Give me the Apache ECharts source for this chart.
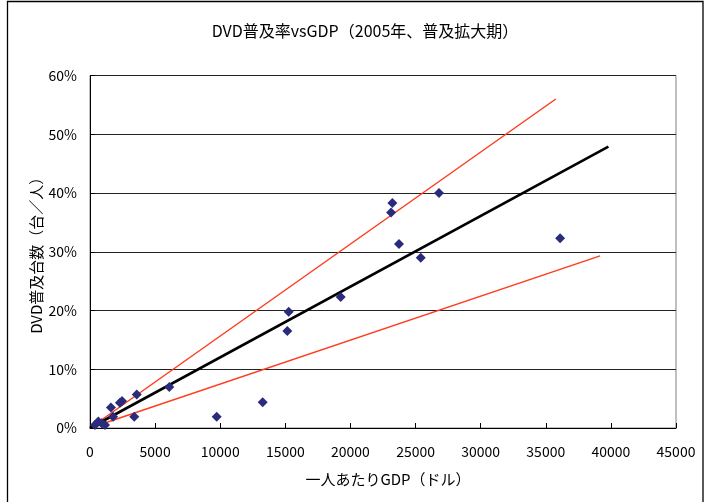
<!DOCTYPE html>
<html>
<head>
<meta charset="utf-8">
<script src="https://cdn.jsdelivr.net/npm/echarts@6/dist/echarts.min.js"></script>
<style>
html,body{margin:0;padding:0;background:#fff;}
#chart{width:705px;height:502px;}
</style>
</head>
<body>
<div id="chart"></div>
<script>
// GDP per capita (USD)
const gdp = [380, 640, 900, 1150, 1610, 1770, 2300, 2460, 3400, 3590, 6090, 9730, 13260, 15150, 15260, 19250, 23220, 23120, 23730, 25400, 26800, 36100];
// DVD penetration (units per person, fraction)
const dvd = [0.005, 0.011, 0.008, 0.005, 0.035, 0.019, 0.043, 0.046, 0.019, 0.057, 0.070, 0.019, 0.044, 0.165, 0.198, 0.223, 0.383, 0.367, 0.313, 0.290, 0.400, 0.323];
// trend line (black) and bounds (red)
const trendX = [0, 39810];
const trendY = [0, 0.479];
const upperX = [0, 35770];
const upperY = [0, 0.560];
const lowerX = [0, 39170];
const lowerY = [0, 0.293];
const xTicks = [0, 5000, 10000, 15000, 20000, 25000, 30000, 35000, 40000, 45000];
const yTicks = ['0%', '10%', '20%', '30%', '40%', '50%', '60%'];

const zip = (a, b) => a.map((v, i) => [v, b[i]]);
const FONT = '"Noto Sans CJK JP", "Noto Sans", sans-serif';

const chart = echarts.init(document.getElementById('chart'), null, {renderer: 'canvas'});
chart.setOption({
  animation: false,
  backgroundColor: '#fff',
  graphic: [{
    type: 'rect',
    shape: {x: 7.5, y: 1.5, width: 695.5, height: 520},
    style: {fill: 'none', stroke: '#000', lineWidth: 1.3},
    silent: true
  }],
  title: {
    text: 'DVD普及率vsGDP（2005年、普及拡大期）',
    left: 360, top: 18, textAlign: 'center',
    textStyle: {fontFamily: FONT, fontSize: 16, fontWeight: 'normal', color: '#000'}
  },
  grid: {left: 90, right: 29, top: 75.5, bottom: 74, show: true, borderColor: '#808080', borderWidth: 1, containLabel: false},
  xAxis: {
    type: 'value', min: 0, max: 45000, interval: 5000,
    name: '一人あたりGDP（ドル）', nameLocation: 'middle', nameGap: 44,
    nameMoveOverlap: false,
    nameTextStyle: {fontFamily: FONT, fontSize: 15, color: '#000', padding: [0, 0, 0, 10]},
    axisLine: {onZero: false, lineStyle: {color: '#000', width: 1}},
    axisTick: {inside: true, length: 5, lineStyle: {color: '#000'}},
    axisLabel: {fontFamily: FONT, fontSize: 14, color: '#000', margin: 17,
      formatter: v => String(xTicks[Math.round(v / 5000)])},
    splitLine: {show: false}
  },
  yAxis: {
    type: 'value', min: 0, max: 0.6, interval: 0.1,
    name: 'DVD普及台数（台／人）', nameLocation: 'middle', nameGap: 46, nameRotate: 90,
    nameMoveOverlap: false,
    nameTextStyle: {fontFamily: FONT, fontSize: 15, color: '#000'},
    axisLine: {onZero: false, lineStyle: {color: '#000', width: 1}},
    axisTick: {inside: true, length: 5, lineStyle: {color: '#000'}},
    axisLabel: {fontFamily: FONT, fontSize: 14, color: '#000', margin: 13,
      formatter: v => yTicks[Math.round(v * 10)]},
    splitLine: {show: true, lineStyle: {color: '#222', width: 1}}
  },
  series: [
    {
      type: 'line', data: zip(upperX, upperY), symbol: 'none',
      lineStyle: {color: '#ff3c1e', width: 1.5}, z: 2
    },
    {
      type: 'line', data: zip(lowerX, lowerY), symbol: 'none',
      lineStyle: {color: '#ff3c1e', width: 1.5}, z: 2
    },
    {
      type: 'line', data: zip(trendX, trendY), symbol: 'none',
      lineStyle: {color: '#000', width: 2.6}, z: 3
    },
    {
      type: 'scatter', data: zip(gdp, dvd), symbol: 'diamond', symbolSize: 10,
      itemStyle: {color: '#2b2b7c', opacity: 1}, z: 4
    }
  ]
});
</script>
</body>
</html>
